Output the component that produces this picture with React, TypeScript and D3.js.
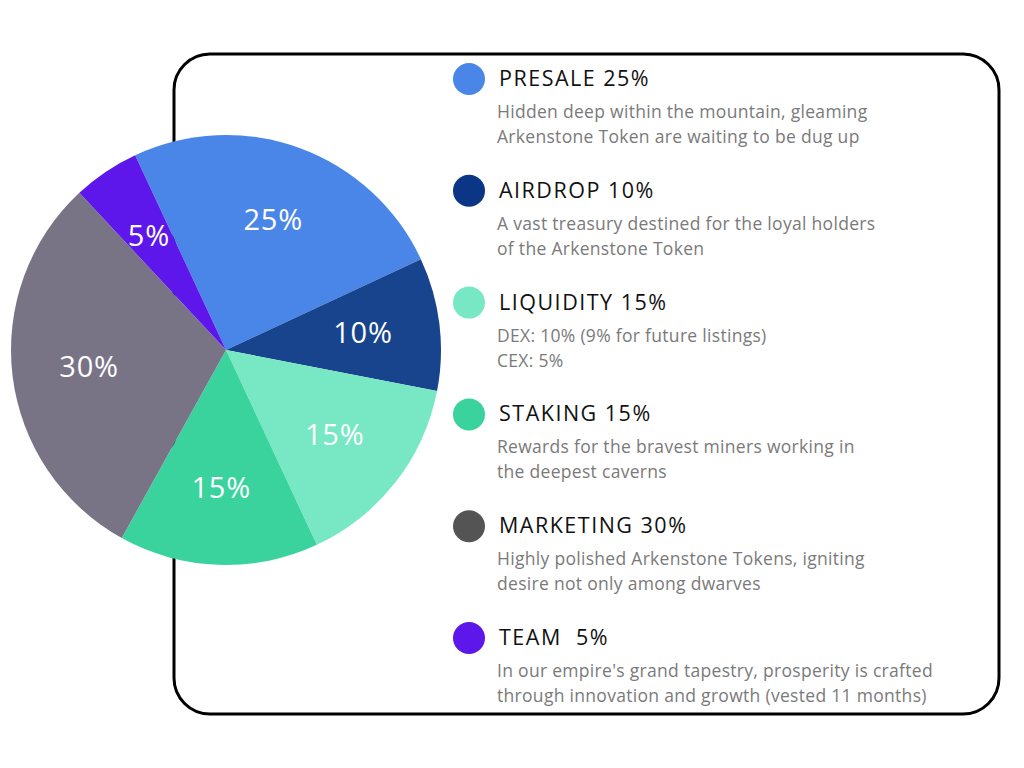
import React from 'react';
import * as d3 from 'd3';

// Token allocation values
const categories = ['PRESALE', 'AIRDROP', 'LIQUIDITY', 'STAKING', 'MARKETING', 'TEAM'];
const shares = [25, 10, 15, 15, 30, 5];
const sliceColors = ['#4A86E8', '#17448C', '#77E8C3', '#3AD39D', '#787486', '#5E17EB'];
const dotColors = ['#4A86E8', '#0B3585', '#77E8C3', '#3AD39D', '#545454', '#5E17EB'];
const titles = ['PRESALE 25%', 'AIRDROP 10%', 'LIQUIDITY 15%', 'STAKING 15%', 'MARKETING 30%', 'TEAM  5%'];
const descriptions = [
  ['Hidden deep within the mountain, gleaming', 'Arkenstone Token are waiting to be dug up'],
  ['A vast treasury destined for the loyal holders', 'of the Arkenstone Token'],
  ['DEX: 10% (9% for future listings)', 'CEX: 5%'],
  ['Rewards for the bravest miners working in', 'the deepest caverns'],
  ['Highly polished Arkenstone Tokens, igniting', 'desire not only among dwarves'],
  ["In our empire's grand tapestry, prosperity is crafted", 'through innovation and growth (vested 11 months)'],
];

const W = 1024;
const H = 768;
const FONT = "'Open Sans', sans-serif";

export default function App() {
  const cx = 226;
  const cy = 350;
  const r = 215;
  // pie begins at -25deg so the team slice closes the circle
  const start = (-25 * Math.PI) / 180;

  const pie = d3.pie<number>().sort(null).startAngle(start).endAngle(start + 2 * Math.PI);
  const arcs = pie(shares);
  const arc = d3.arc<d3.PieArcDatum<number>>().innerRadius(0).outerRadius(r);
  const labelArc = d3.arc<d3.PieArcDatum<number>>().innerRadius(138).outerRadius(138);

  // legend rows
  const rowY = d3.scaleLinear().domain([0, categories.length - 1]).range([79, 638]);

  return (
    <svg width={W} height={H} style={{ position: 'absolute', left: 0, top: 0, background: '#fff' }}>
      <rect x={174} y={54} width={825} height={660} rx={36} ry={36} fill="none" stroke="#000" strokeWidth={3} />
      <g transform={`translate(${cx},${cy})`}>
        {arcs.map((a, i) => (
          <path key={categories[i]} d={arc(a) || ''} fill={sliceColors[i]} />
        ))}
        {arcs.map((a, i) => {
          const [lx, ly] = labelArc.centroid(a);
          return (
            <text key={'l' + i} x={lx} y={ly} dy="0.35em" textAnchor="middle" fill="#fff"
              fontFamily={FONT} fontSize={29} letterSpacing={0.8}>
              {shares[i]}%
            </text>
          );
        })}
      </g>
      {categories.map((c, i) => {
        const y = rowY(i);
        return (
          <g key={'leg' + c}>
            <circle cx={469} cy={y} r={16} fill={dotColors[i]} />
            <text x={499} y={y + 7} fontFamily={FONT} fontSize={21.5} fill="#111" letterSpacing={1.5}
              style={{ whiteSpace: 'pre' }}>
              {titles[i]}
            </text>
            {descriptions[i].map((line, j) => (
              <text key={j} x={497} y={y + 39 + j * 25} fontFamily={FONT} fontSize={17.5} fill="#7a7a7a"
                letterSpacing={0.3}>
                {line}
              </text>
            ))}
          </g>
        );
      })}
    </svg>
  );
}
